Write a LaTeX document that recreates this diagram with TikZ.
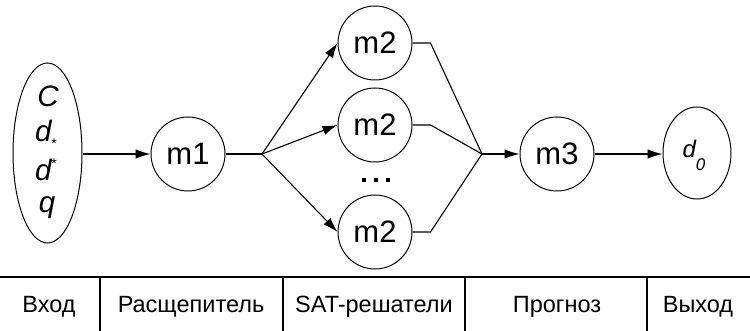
\documentclass[tikz,border=0pt]{standalone}
\usepackage{fontspec}
\setmainfont{Liberation Sans}
\usetikzlibrary{shapes.geometric,arrows.meta}

\tikzset{
  unit/.style={circle, draw, line width=1pt, minimum size=74pt, inner sep=0pt,
               font=\fontsize{31}{34}\selectfont},
  oval/.style={ellipse, draw, line width=1pt, inner sep=0pt},
  var/.style={inner sep=0pt, anchor=base, font=\fontsize{29.5}{32}\selectfont\itshape},
  flow/.style={line width=1.1pt, -{Latex[length=15pt,width=9.5pt]}},
  wire/.style={line width=1.1pt},
  grid/.style={line width=1.2pt},
  head/.style={inner sep=0pt, font=\fontsize{23.5}{26}\selectfont},
  bullet/.style={fill, minimum size=4.5pt, inner sep=0pt},
}
\newcommand{\starmark}[1]{\raisebox{#1}{\fontsize{14}{14}\selectfont\upshape *}}

\begin{document}
\begin{tikzpicture}[x=1pt,y=-1pt]
  \useasboundingbox (0,0) rectangle (750,331);

  % input variables
  \node[oval, minimum width=69pt, minimum height=180pt] (in) at (47.5,153) {};
  \node[var] (vC) at (48,107) {C};
  \node[var] (vDlow) at (46,142) {d\starmark{-7pt}};
  \node[var] (vDup) at (46,181) {d\starmark{12pt}};
  \node[var] (vQ) at (47,213) {q};

  % processing units
  \node[unit] (m1) at (188,154) {m1};
  \coordinate (split) at (262,154);
  \node[unit] (m2a) at (375,43) {m2};
  \node[unit] (m2b) at (375,125) {m2};
  \node[unit] (m2c) at (375,232) {m2};
  \node[bullet] (dot1) at (364,180) {};
  \node[bullet] (dot2) at (376,180) {};
  \node[bullet] (dot3) at (388,180) {};
  \coordinate (merge) at (482,154);
  \node[unit] (m3) at (557,154) {m3};

  % output
  \node[oval, minimum width=68pt, minimum height=92pt] (out) at (697,153) {};
  \node[inner sep=0pt, anchor=base, font=\fontsize{24}{26}\selectfont\itshape] (vD0) at (694,158)
    {d\raisebox{-13pt}{\fontsize{17}{17}\selectfont 0}};

  % connections
  \draw[flow] (in.east |- m1) -- (m1.west);
  \draw[wire] (m1.east) -- (split);
  \draw[flow] (split) -- (m2a.west);
  \draw[flow] (split) -- (m2b.west);
  \draw[flow] (split) -- (m2c.west);
  \draw[wire] (m2a.east) -- ++(18,0) -- (merge);
  \draw[wire] (m2b.east) -- ++(18,0) -- (merge);
  \draw[wire] (m2c.east) -- ++(18,0) -- (merge);
  \draw[flow] (merge) -- (m3.west);
  \draw[flow] (m3.east) -- (out.west |- m3);

  % stage table
  \coordinate (t0) at (0,277);
  \coordinate (t6) at (750,277);
  \draw[grid] (t0) -- (t6);
  \foreach \x in {100,283,465,647} \draw[grid] (\x,277) -- (\x,331);
  \node[head] (h1) at (49,307) {Вход};
  \node[head] (h2) at (191,307) {Расщепитель};
  \node[head] (h3) at (374,307) {SAT-решатели};
  \node[head] (h4) at (557,307) {Прогноз};
  \node[head] (h5) at (698,307) {Выход};
\end{tikzpicture}
\end{document}
